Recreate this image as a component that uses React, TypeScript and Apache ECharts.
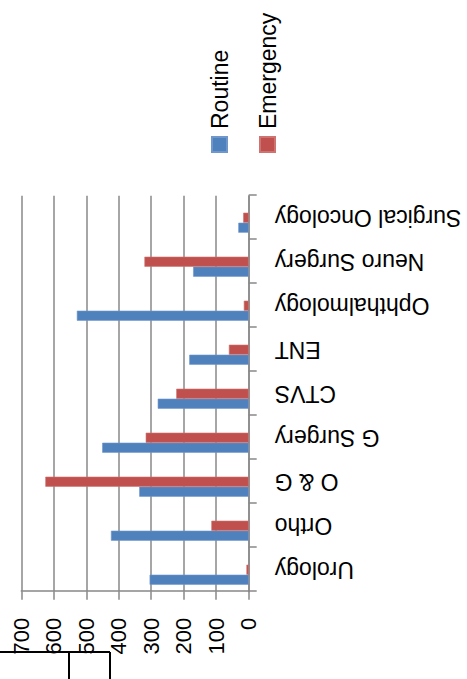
import React, { useEffect, useRef } from "react";
import * as echarts from "echarts";

const categories = [
  "Urology",
  "Ortho",
  "O & G",
  "G Surgery",
  "CTVS",
  "ENT",
  "Ophthalmology",
  "Neuro Surgery",
  "Surgical Oncology",
];
const routine = [305, 424, 337, 451, 280, 183, 529, 171, 32];
const emergency = [7, 115, 626, 317, 223, 61, 15, 321, 17];
const seriesNames = ["Routine", "Emergency"];
const valueMin = 0;
const valueMax = 700;
const valueStep = 100;

const FONT = "'Liberation Sans', Arial, sans-serif";
const GRID_COLOR = "#888888";

export default function App() {
  const ref = useRef<HTMLDivElement>(null);

  useEffect(() => {
    if (!ref.current) return;
    const chart = echarts.init(ref.current, undefined, { renderer: "svg" });
    chart.setOption({
      animation: false,
      backgroundColor: "#ffffff",
      textStyle: { fontFamily: FONT },
      grid: [
        { left: 87.3, right: 195.7, top: 21.3, bottom: 218.3 },
        { left: 82.3, right: 200.7, top: 21.3, bottom: 218.3 },
      ],
      legend: {
        data: seriesNames,
        orient: "vertical",
        left: 526,
        top: 208,
        padding: 0,
        itemWidth: 15,
        itemHeight: 15,
        itemGap: 25,
        icon: "rect",
        textStyle: {
          fontSize: 23,
          color: "#000",
          fontFamily: FONT,
          padding: [0, 0, 0, 3],
        },
      },
      xAxis: [
        {
          type: "category",
          gridIndex: 0,
          data: categories,
          boundaryGap: true,
          axisLine: { show: true, lineStyle: { color: GRID_COLOR, width: 1.5 } },
          axisTick: { show: true, length: 8, lineStyle: { color: GRID_COLOR, width: 1.5 } },
          axisLabel: {
            interval: 0,
            rotate: 90,
            margin: 26,
            fontSize: 23,
            color: "#000",
            fontFamily: FONT,
          },
          splitLine: { show: false },
        },
        {
          type: "category",
          gridIndex: 1,
          data: categories,
          show: false,
        },
      ],
      yAxis: [
        {
          type: "value",
          gridIndex: 0,
          min: valueMin,
          max: valueMax,
          interval: valueStep,
          axisLine: { show: true, lineStyle: { color: GRID_COLOR, width: 1.5 } },
          axisTick: { show: true, length: 8, lineStyle: { color: GRID_COLOR, width: 1.5 } },
          axisLabel: { fontSize: 22, margin: 26, color: "#000", fontFamily: FONT },
          splitLine: { show: true, lineStyle: { color: GRID_COLOR, width: 1.5 } },
        },
        {
          type: "value",
          gridIndex: 1,
          min: valueMin,
          max: valueMax,
          interval: valueStep,
          show: false,
          splitLine: { show: false },
        },
      ],
      graphic: [
        {
          type: "line",
          shape: { x1: 27, y1: 0, x2: 27, y2: 110 },
          style: { stroke: "#000", lineWidth: 2 },
        },
        {
          type: "line",
          shape: { x1: 0, y1: 69, x2: 27, y2: 69 },
          style: { stroke: "#000", lineWidth: 2 },
        },
        {
          type: "line",
          shape: { x1: 0, y1: 110, x2: 27, y2: 110 },
          style: { stroke: "#000", lineWidth: 2 },
        },
      ],
      series: [
        {
          name: seriesNames[0],
          type: "bar",
          xAxisIndex: 1,
          yAxisIndex: 1,
          data: routine,
          barWidth: 10,
          barGap: "0%",
          itemStyle: { color: "#4F81BD", borderColor: "#6F97CB", borderWidth: 0.6 },
        },
        {
          name: seriesNames[1],
          type: "bar",
          xAxisIndex: 1,
          yAxisIndex: 1,
          data: emergency,
          barWidth: 10,
          barGap: "0%",
          itemStyle: { color: "#C0504D", borderColor: "#CE7370", borderWidth: 0.6 },
        },
      ],
    });
    return () => chart.dispose();
  }, []);

  return (
    <div
      style={{
        position: "fixed",
        left: 0,
        top: 0,
        width: 467,
        height: 679,
        overflow: "hidden",
        background: "#fff",
      }}
    >
      <div
        ref={ref}
        style={{
          position: "absolute",
          left: 0,
          top: 0,
          width: 679,
          height: 467,
          transformOrigin: "0 0",
          transform: "translateY(679px) rotate(-90deg)",
        }}
      />
    </div>
  );
}
